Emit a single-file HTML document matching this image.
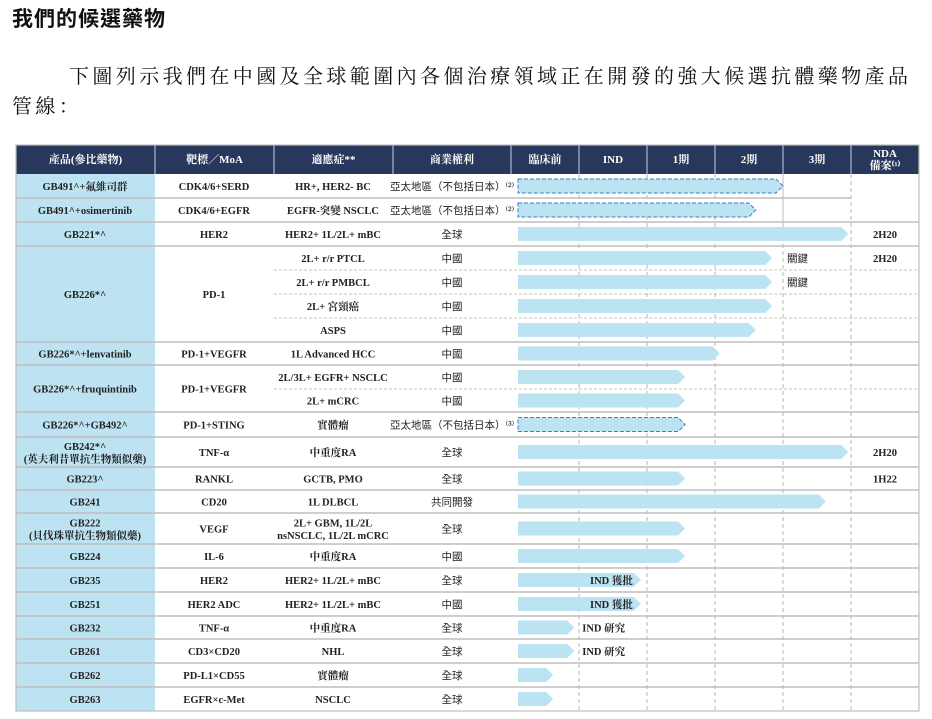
<!DOCTYPE html>
<html><head><meta charset="utf-8">
<style>
html,body{margin:0;padding:0;background:#fff;}
body{width:932px;height:719px;position:relative;overflow:hidden;}
#title{position:absolute;left:12px;top:3px;font:bold 21px "Liberation Sans","Noto Sans CJK TC",sans-serif;color:#111;letter-spacing:1px;}
#para{position:absolute;left:12px;top:62px;width:915px;font:20px "Liberation Serif","Noto Serif CJK SC",serif;color:#111;letter-spacing:3.4px;line-height:30px;text-indent:57px;}
svg{position:absolute;left:0;top:0;}
</style></head><body>
<div id="title">我們的候選藥物</div>
<div id="para">下圖列示我們在中國及全球範圍內各個治療領域正在開發的強大候選抗體藥物產品管線：</div>
<svg id="chart" width="932" height="719"></svg>
<script>
// ---- data ----
const products = ["GB491^+氟維司群","GB491^+osimertinib","GB221*^","GB226*^","","","","GB226*^+lenvatinib","GB226*^+fruquintinib","","GB226*^+GB492^","GB242*^|(英夫利昔單抗生物類似藥)","GB223^","GB241","GB222|(貝伐珠單抗生物類似藥)","GB224","GB235","GB251","GB232","GB261","GB262","GB263"];
const productSpan = [1,1,1,4,0,0,0,1,2,0,1,1,1,1,1,1,1,1,1,1,1,1];
const targets = ["CDK4/6+SERD","CDK4/6+EGFR","HER2","PD-1","","","","PD-1+VEGFR","PD-1+VEGFR","","PD-1+STING","TNF-α","RANKL","CD20","VEGF","IL-6","HER2","HER2 ADC","TNF-α","CD3×CD20","PD-L1×CD55","EGFR×c-Met"];
const indications = ["HR+, HER2- BC","EGFR-突變 NSCLC","HER2+ 1L/2L+ mBC","2L+ r/r PTCL","2L+ r/r PMBCL","2L+ 宮頸癌","ASPS","1L Advanced HCC","2L/3L+ EGFR+ NSCLC","2L+ mCRC","實體瘤","中重度RA","GCTB, PMO","1L DLBCL","2L+ GBM, 1L/2L|nsNSCLC, 1L/2L mCRC","中重度RA","HER2+ 1L/2L+ mBC","HER2+ 1L/2L+ mBC","中重度RA","NHL","實體瘤","NSCLC"];
const rights = ["亞太地區（不包括日本）⁽²⁾","亞太地區（不包括日本）⁽²⁾","全球","中國","中國","中國","中國","中國","中國","中國","亞太地區（不包括日本）⁽³⁾","全球","全球","共同開發","全球","中國","全球","中國","全球","全球","全球","全球"];
// progress in stages (0=start of preclinical, 1=IND, 2=Ph1, 3=Ph2, 4=Ph3, 5=NDA)
const progress = [4.0,3.6,4.96,3.84,3.84,3.84,3.6,3.07,2.56,2.56,2.56,4.96,2.56,4.63,2.56,2.56,1.91,1.91,0.93,0.93,0.62,0.62];
const dashedBar = [1,1,0,0,0,0,0,0,0,0,1,0,0,0,0,0,0,0,0,0,0,0];
const stageNotes = ["","","","關鍵","關鍵","","","","","","","","","","","","IND 獲批","IND 獲批","IND 研究","IND 研究","",""];
const ndaNotes = ["","","2H20","2H20","","","","","","","","2H20","1H22","","","","","","","","",""];
const headers = ["產品(參比藥物)","靶標／MoA","適應症**","商業權利","臨床前","IND","1期","2期","3期","NDA|備案⁽¹⁾"];
</script>
<script>
const NS="http://www.w3.org/2000/svg";
const svg=document.getElementById('chart');
function mk(tag,attrs,parent){const e=document.createElementNS(NS,tag);for(const k in attrs)e.setAttribute(k,attrs[k]);(parent||svg).appendChild(e);return e;}
const colX=[16,155,274,393,511,579,647,715,783,851,919];
const stageW=68, stage0=511;
function xStage(v){return stage0+stageW*v;}
const rowH=[24,24,24,24,24,24,24,23,24,23,25,30,23,23,31,24,24,24,23,24,24,24];
const top0=174;
const rowY=[];let acc=top0;for(const h of rowH){rowY.push(acc);acc+=h;}
const bottom=acc;
const serif='"Liberation Serif","Noto Serif CJK SC",serif';

// header
const hg=mk('g',{});


mk('rect',{x:16,y:145,width:903,height:29,fill:'#28375c'},hg);
headers.forEach((h,i)=>{
  if(i>0) mk('line',{x1:colX[i],x2:colX[i],y1:145,y2:174,stroke:'#c9d0dc','stroke-width':1},hg);
  const lines=h.split('|');
  lines.forEach((ln,j)=>{
    const t=mk('text',{x:(colX[i]+colX[i+1])/2,y:lines.length>1?157+j*12:163,'text-anchor':'middle','font-family':serif,'font-size':11,'font-weight':'bold',fill:'#fff'},hg);
    t.textContent=ln;
  });
});
// product column background
const pb=mk('rect',{x:16,y:top0,width:139,height:bottom-top0,fill:'#bde3f2'});



// grid vertical dashed lines in pipeline area
for(let i=5;i<=9;i++){
  const l=mk('line',{x1:colX[i],x2:colX[i],y1:top0,y2:bottom,stroke:'#b5b5b5','stroke-width':1,'stroke-dasharray':'4,3'});
  
  
}
// row separators
for(let r=1;r<rowH.length;r++){
  const y=rowY[r];
  const sub=productSpan[r]===0;
  if(sub){
    mk('line',{x1:274,x2:919,y1:y,y2:y,stroke:'#c4c4c4','stroke-width':1,'stroke-dasharray':'3,2'});
  }else{
    mk('line',{x1:16,x2:r===1?851:919,y1:y,y2:y,stroke:'#bdbdbd','stroke-width':1.6});
  }
}
mk('rect',{x:16,y:145,width:903,height:bottom-145,fill:'none',stroke:'#bdbdbd','stroke-width':1.2});
mk('line',{x1:783,x2:783,y1:top0,y2:222,stroke:'#bdbdbd','stroke-width':1});

function txt(x,y,s,opts,parent){
  const lines=s.split('|');
  const lh=12.5;
  const y0=y-(lines.length-1)*lh/2;
  lines.forEach((ln,j)=>{
    const t=mk('text',Object.assign({x:x,y:y0+j*lh+4,'text-anchor':'middle','font-family':serif,'font-size':10.5,'font-weight':'bold',fill:'#222'},opts||{}),parent);
    t.textContent=ln;
  });
}

for(let r=0;r<rowH.length;r++){
  const g=mk('g',{});
  
  
  const cy=rowY[r]+rowH[r]/2;
  if(productSpan[r]>0){
    let h=0;for(let k=0;k<productSpan[r];k++)h+=rowH[r+k];
    const gcy=rowY[r]+h/2;
    txt(85,gcy,products[r],{},g);
    txt(214,gcy,targets[r],{},g);
  }
  txt(333,cy,indications[r],{},g);
  if(rights[r].length>4){
    txt(390,cy,rights[r],{'text-anchor':'start','font-weight':'normal','font-size':10.5,'font-family':'"Liberation Sans","Noto Sans CJK TC",sans-serif'},g);
  }else{
    txt(452,cy,rights[r],{'font-weight':'normal','font-family':'"Liberation Sans","Noto Sans CJK TC",sans-serif'},g);
  }
  // bar
  const x0=518, x1=xStage(progress[r]), bh=14, tip=7;
  const y0=cy-bh/2;
  const pts=`${x0},${y0} ${x1-tip},${y0} ${x1},${cy} ${x1-tip},${y0+bh} ${x0},${y0+bh}`;
  const bar=mk('polygon',{points:pts,fill:'#bce3f2',stroke:dashedBar[r]?'#3a7fc4':'none','stroke-width':1,'stroke-dasharray':dashedBar[r]?'4,2':''},g);
  
  
  const note=stageNotes[r];
  if(note){
    if(note==='關鍵') txt(787,cy,note,{'text-anchor':'start','font-weight':'normal','font-family':'"Liberation Sans","Noto Sans CJK TC",sans-serif'},g);
    else if(note==='IND 獲批') txt(x1-tip-1,cy,note,{'text-anchor':'end'},g);
    else txt(x1+8,cy,note,{'text-anchor':'start'},g);
  }
  if(ndaNotes[r]) txt(885,cy,ndaNotes[r],{},g);
}
</script>
</body></html>
